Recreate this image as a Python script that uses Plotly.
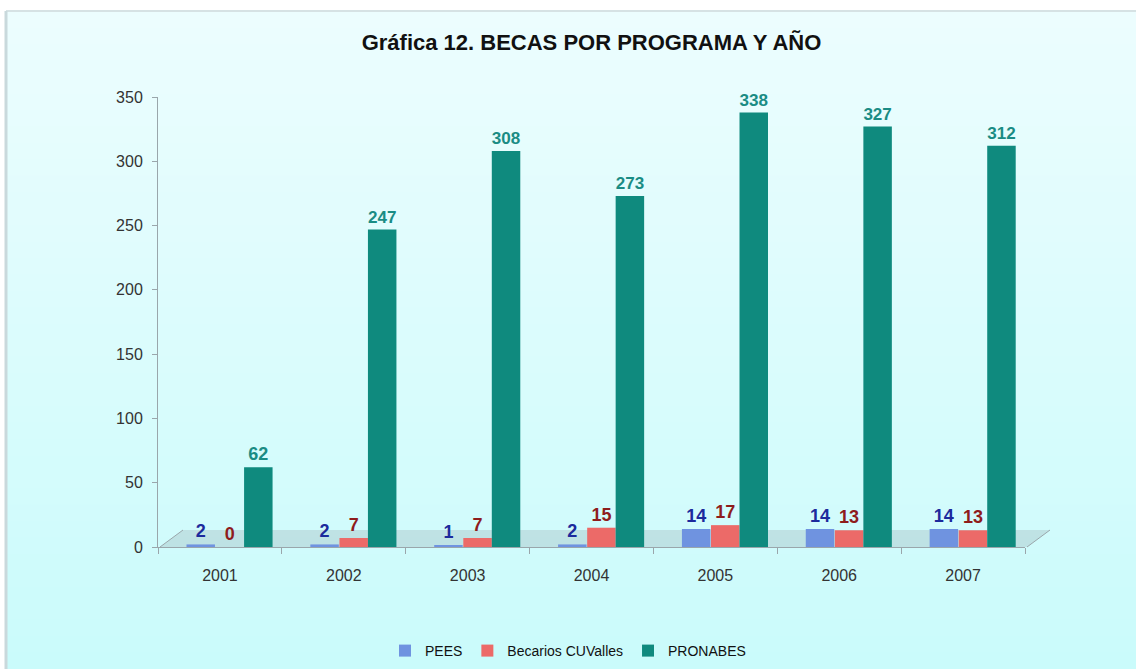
import plotly.graph_objects as go

years = ["2001", "2002", "2003", "2004", "2005", "2006", "2007"]
pees = [2, 2, 1, 2, 14, 14, 14]
becarios = [0, 7, 7, 15, 17, 13, 13]
pronabes = [62, 247, 308, 273, 338, 327, 312]

series = [
    ("PEES", pees, "#6f93e0", "#1c2a9c", -0.27),
    ("Becarios CUValles", becarios, "#ec6a68", "#8e1c1c", -0.035),
    ("PRONABES", pronabes, "#0f8a7e", "#1a8c84", 0.195),
]

W, H = 1136, 669
L, R, T, B = 158, 111, 97, 122
PW, PH = W - L - R, H - T - B


def px(x):
    return (x - L) / PW


def py(y):
    return (H - B - y) / PH


fig = go.Figure()
for name, vals, col, tcol, off in series:
    fig.add_trace(go.Bar(
        x=years, y=vals, name=name,
        marker=dict(color=col, line=dict(width=0)),
        width=0.23, offset=off,
        text=[str(v) for v in vals], textposition="outside",
        textfont=dict(family="Liberation Sans, Arial", size=18, color=tcol, weight="bold"),
        cliponaxis=False,
    ))

# background gradient panel
shapes = []
n = 40
top = (236, 253, 254)
bot = (202, 251, 251)
ytop, ybot = 11, H
for i in range(n):
    t = i / (n - 1)
    c = tuple(int(round(top[k] + (bot[k] - top[k]) * t)) for k in range(3))
    ya = ytop + (ybot - ytop) * i / n
    yb = ytop + (ybot - ytop) * (i + 1) / n + 1
    shapes.append(dict(type="rect", xref="paper", yref="paper", layer="below",
                       x0=px(6), x1=px(W), y0=py(yb), y1=py(ya),
                       line=dict(width=0), fillcolor="rgb(%d,%d,%d)" % c))
# panel border (top & left)
shapes.append(dict(type="line", xref="paper", yref="paper", layer="below",
                   x0=px(6), x1=px(W), y0=py(11), y1=py(11),
                   line=dict(color="#d6e2e4", width=2)))
shapes.append(dict(type="line", xref="paper", yref="paper", layer="below",
                   x0=px(6), x1=px(6), y0=py(11), y1=py(H),
                   line=dict(color="#c9d9dc", width=3)))
# 3D floor
shapes.append(dict(type="path", xref="paper", yref="paper", layer="below",
                   path="M %f %f L %f %f L %f %f L %f %f Z" % (
                       px(160), py(547), px(1027), py(547), px(1050), py(530), px(183), py(530)),
                   fillcolor="rgba(150,170,172,0.30)", line=dict(width=0)))
shapes.append(dict(type="line", xref="paper", yref="paper", layer="below",
                   x0=px(1027), y0=py(547), x1=px(1050), y1=py(530),
                   line=dict(color="#9aa6ab", width=1)))
shapes.append(dict(type="line", xref="paper", yref="paper", layer="below",
                   x0=px(160), y0=py(547), x1=px(183), y1=py(530),
                   line=dict(color="#9aa6ab", width=1)))

fig.update_layout(
    width=W, height=H,
    margin=dict(l=L, r=R, t=T, b=B, autoexpand=False),
    paper_bgcolor="white",
    plot_bgcolor="rgba(0,0,0,0)",
    shapes=shapes,
    title=dict(text="<b>Gráfica 12. BECAS POR PROGRAMA Y AÑO</b>",
               x=0.5, xanchor="center", xref="paper", y=1 - 42 / H, yanchor="middle",
               font=dict(family="Liberation Sans, Arial", size=22, color="#111111")),
    barmode="group",
    showlegend=True,
    legend=dict(orientation="h", x=0.5, xanchor="center", xref="container",
                y=1 - 651 / H, yanchor="middle", yref="container",
                font=dict(family="Liberation Sans, Arial", size=14, color="#111111"),
                bgcolor="rgba(0,0,0,0)", traceorder="normal"),
    font=dict(family="Liberation Sans, Arial"),
)
fig.update_xaxes(type="category", showgrid=False, showline=True, linecolor="#9aa6ab", linewidth=1,
                 ticks="outside", tickson="boundaries", ticklen=6, tickcolor="#9aa6ab",
                 ticklabelstandoff=14,
                 tickfont=dict(size=16, color="#333333"))
fig.update_yaxes(range=[0, 350], dtick=50, showgrid=False, showline=True, linecolor="#9aa6ab",
                 linewidth=1, ticks="outside", ticklen=5, tickcolor="#9aa6ab", zeroline=False,
                 ticklabelstandoff=6,
                 tickfont=dict(size=16, color="#333333"))

fig.write_html("out.html", config={"displayModeBar": False},
               post_script="document.body.style.margin='0';document.body.style.overflow='hidden';")
